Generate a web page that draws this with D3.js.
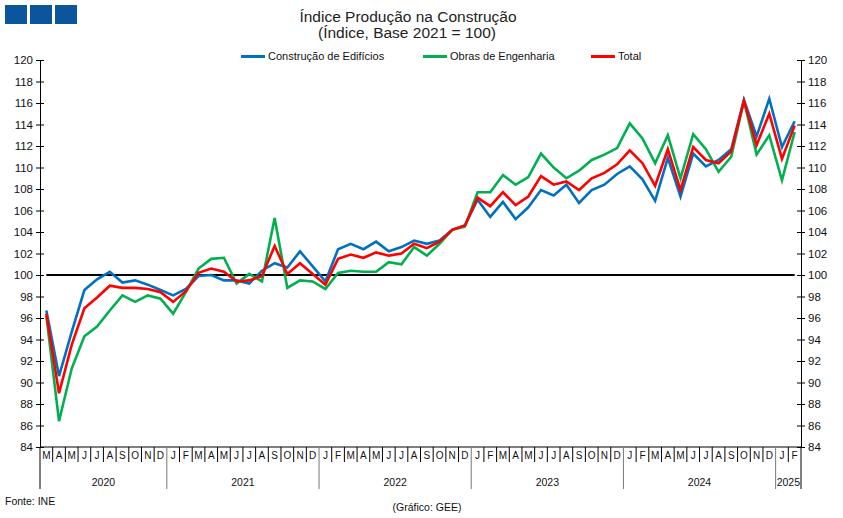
<!DOCTYPE html>
<html>
<head>
<meta charset="utf-8">
<script src="https://cdn.jsdelivr.net/npm/d3@7"></script>
<style>
  body { margin: 0; background: #fff; }
  svg { font-family: "Liberation Sans", Arial, sans-serif; }
</style>
</head>
<body>
<svg id="chart"></svg>
<script>
// Monthly index, Mar 2020 .. Feb 2025 (2021 = 100)
const monthLetters = ['J', 'F', 'M', 'A', 'M', 'J', 'J', 'A', 'S', 'O', 'N', 'D'];
const years = ['2020', '2021', '2022', '2023', '2024', '2025'];
const firstMonth = 2; // March 2020

const edificios = [
  96.7, 90.6, 94.7, 98.6, 99.6, 100.3, 99.3, 99.5, 99.1, 98.6,
  98.1, 98.7, 99.9, 100.0, 99.5, 99.5, 99.2, 100.4, 101.1, 100.7, 102.2, 100.8,
  99.4, 102.4, 102.9, 102.4, 103.1, 102.2, 102.6, 103.2, 102.9, 103.2, 104.2, 104.6,
  107.0, 105.4, 106.8, 105.2, 106.3, 107.9, 107.4, 108.4, 106.7, 107.9, 108.4, 109.4,
  110.1, 108.9, 106.9, 110.9, 107.3, 111.3, 110.1, 110.7, 111.7, 116.3, 112.9, 116.4,
  111.9, 114.3
];
const engenharia = [
  96.2, 86.4, 91.3, 94.3, 95.2, 96.7, 98.1, 97.5, 98.1, 97.8,
  96.4, 98.4, 100.6, 101.5, 101.6, 99.2, 100.1, 99.4, 105.3, 98.8, 99.5, 99.4,
  98.7, 100.2, 100.4, 100.3, 100.3, 101.2, 101.0, 102.6, 101.8, 102.9, 104.2, 104.5,
  107.7, 107.7, 109.3, 108.4, 109.1, 111.3, 110.0, 109.0, 109.7, 110.7, 111.2, 111.8,
  114.1, 112.7, 110.4, 113.0, 109.0, 113.1, 111.7, 109.6, 111.0, 116.2, 111.2, 113.0,
  108.8, 113.3
];
const total = [
  96.4, 89.0, 93.5, 96.9, 97.9, 99.0, 98.8, 98.8, 98.7, 98.4,
  97.5, 98.5, 100.2, 100.6, 100.3, 99.4, 99.5, 99.9, 102.7, 100.1, 101.1, 100.1,
  99.1, 101.5, 101.9, 101.6, 102.1, 101.8, 102.0, 102.9, 102.5, 103.1, 104.2, 104.6,
  107.2, 106.4, 107.7, 106.5, 107.3, 109.2, 108.4, 108.7, 107.9, 109.0, 109.5, 110.3,
  111.6, 110.4, 108.3, 111.7, 107.9, 111.9, 110.7, 110.4, 111.5, 116.2, 112.1, 115.0,
  110.8, 113.9
];

const seriesNames = ['Construção de Edifícios', 'Obras de Engenharia', 'Total'];
const seriesColors = ['#0070c0', '#00b050', '#ff0000'];
const seriesValues = [edificios, engenharia, total];

const yTicks = d3.range(84, 121, 2);

// categories: one per month
const months = d3.range(edificios.length).map(i => {
  const m = firstMonth + i;
  return { i, letter: monthLetters[m % 12], year: years[Math.floor(m / 12)], yearStart: m % 12 === 0 };
});

const width = 843, height = 518;
const plotLeft = 40, plotRight = 801, plotTop = 60, plotBottom = 447;

const svg = d3.select('#chart')
  .attr('width', width)
  .attr('height', height);

const x = d3.scaleBand()
  .domain(months.map(d => d.i))
  .range([plotLeft, plotRight])
  .padding(0);
const cx = i => x(i) + x.bandwidth() / 2;

const y = d3.scaleLinear()
  .domain([84, 120])
  .range([plotBottom, plotTop]);

// logo squares
svg.append('g')
  .selectAll('rect')
  .data([0, 1, 2])
  .join('rect')
  .attr('x', d => 5 + d * 25)
  .attr('y', 5)
  .attr('width', 22)
  .attr('height', 19)
  .attr('fill', '#0a559c');

// title
svg.append('text')
  .attr('x', 408).attr('y', 22)
  .attr('text-anchor', 'middle')
  .attr('font-size', 15.5)
  .attr('fill', '#222')
  .text('Índice Produção na Construção');
svg.append('text')
  .attr('x', 407).attr('y', 38)
  .attr('text-anchor', 'middle')
  .attr('font-size', 15.5)
  .attr('fill', '#222')
  .text('(Índice, Base 2021 = 100)');

// legend
const legendX = [241, 423, 591];
const legend = svg.append('g')
  .selectAll('g')
  .data(seriesNames)
  .join('g')
  .attr('transform', (d, i) => `translate(${legendX[i]},56.5)`);
legend.append('line')
  .attr('x1', 0).attr('x2', 24)
  .attr('stroke', (d, i) => seriesColors[i])
  .attr('stroke-width', 3);
legend.append('text')
  .attr('x', 27).attr('dy', '0.35em')
  .attr('font-size', 11)
  .attr('fill', '#111')
  .text(d => d);

// y axes
const yLeft = d3.axisLeft(y).tickValues(yTicks).tickSize(4).tickSizeOuter(0);
const yRight = d3.axisRight(y).tickValues(yTicks).tickSize(4).tickSizeOuter(0);

const gl = svg.append('g').attr('transform', `translate(${plotLeft},0)`).call(yLeft);
const gr = svg.append('g').attr('transform', `translate(${plotRight},0)`).call(yRight);
[gl, gr].forEach(g => {
  g.select('.domain').attr('stroke', '#000');
  g.selectAll('.tick line').attr('stroke', '#000');
  g.selectAll('.tick text').attr('font-size', 11.5).attr('fill', '#111')
    .attr('font-family', '"Liberation Sans", Arial, sans-serif');
});
gl.selectAll('.tick line').attr('x1', 4).attr('x2', -4);
gl.selectAll('.tick text').attr('x', -7);
gr.selectAll('.tick line').attr('x1', -4).attr('x2', 4);
gr.selectAll('.tick text').attr('x', 7);

// x axis: months row and years row
const xg = svg.append('g');
xg.append('line')
  .attr('x1', plotLeft).attr('x2', plotRight)
  .attr('y1', plotBottom).attr('y2', plotBottom)
  .attr('stroke', '#000');

xg.selectAll('.msep')
  .data(months)
  .join('line')
  .attr('x1', d => x(d.i)).attr('x2', d => x(d.i))
  .attr('y1', plotBottom)
  .attr('y2', d => (d.i === 0 || d.yearStart) ? 489 : 462)
  .attr('stroke', d => (d.yearStart ? '#777' : '#000'));

xg.append('line')
  .attr('x1', plotRight).attr('x2', plotRight)
  .attr('y1', plotBottom).attr('y2', 489)
  .attr('stroke', '#000');

xg.selectAll('.mlab')
  .data(months)
  .join('text')
  .attr('x', d => cx(d.i))
  .attr('y', 458.5)
  .attr('text-anchor', 'middle')
  .attr('font-size', 10)
  .attr('fill', '#111')
  .text(d => d.letter);

const yearGroups = d3.groups(months, d => d.year);
xg.selectAll('.ylab')
  .data(yearGroups)
  .join('text')
  .attr('x', ([, ms]) => (x(ms[0].i) + x(ms[ms.length - 1].i) + x.bandwidth()) / 2)
  .attr('y', 486)
  .attr('text-anchor', 'middle')
  .attr('font-size', 10.5)
  .attr('fill', '#111')
  .text(([yr]) => yr);

// reference line at 100
svg.append('line')
  .attr('x1', cx(0)).attr('x2', cx(months.length - 1))
  .attr('y1', y(100)).attr('y2', y(100))
  .attr('stroke', '#000')
  .attr('stroke-width', 2);

// series
const line = d3.line()
  .x((d, i) => cx(i))
  .y(d => y(d));

svg.append('g')
  .selectAll('path')
  .data(seriesValues)
  .join('path')
  .attr('fill', 'none')
  .attr('stroke', (d, i) => seriesColors[i])
  .attr('stroke-width', 2.6)
  .attr('stroke-linejoin', 'miter')
  .attr('d', line);

// footer
svg.append('text')
  .attr('x', 5).attr('y', 505)
  .attr('font-size', 10.5)
  .attr('fill', '#111')
  .text('Fonte: INE');
svg.append('text')
  .attr('x', 427).attr('y', 511)
  .attr('text-anchor', 'middle')
  .attr('font-size', 10.5)
  .attr('fill', '#111')
  .text('(Gráfico: GEE)');
</script>
</body>
</html>
